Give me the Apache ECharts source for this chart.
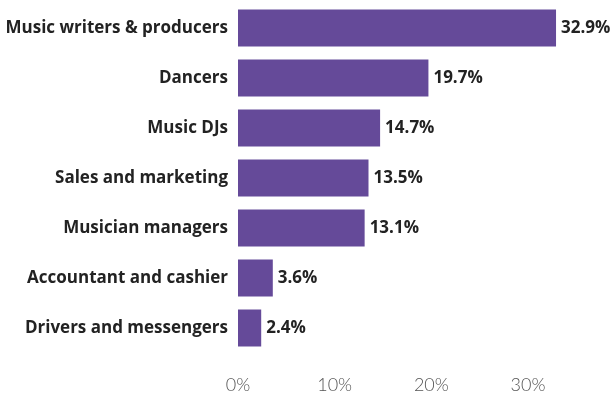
<!DOCTYPE html>
<html>
<head>
<meta charset="utf-8">
<script src="https://cdn.jsdelivr.net/npm/echarts@6/dist/echarts.min.js"></script>
<style>
  html, body { margin: 0; padding: 0; background: #fff; }
  #chart { width: 611px; height: 394px; }
</style>
</head>
<body>
<div id="chart"></div>
<script>
// Share of workers by occupation (percent)
const categories = [
  'Music writers & producers',
  'Dancers',
  'Music DJs',
  'Sales and marketing',
  'Musician managers',
  'Accountant and cashier',
  'Drivers and messengers'
];
const shares = [32.9, 19.7, 14.7, 13.5, 13.1, 3.6, 2.4];
const tickValues = [0, 10, 20, 30];

const chart = echarts.init(document.getElementById('chart'));
chart.setOption({
  animation: false,
  grid: { left: 238, right: 54, top: 3, bottom: 39, containLabel: false },
  xAxis: {
    type: 'value',
    min: 0,
    max: 33,
    interval: 10,
    axisLine: { show: false },
    axisTick: { show: false },
    splitLine: { show: false },
    axisLabel: {
      showMaxLabel: false,
      margin: 23,
      color: '#555',
      fontFamily: 'Lato',
      fontWeight: 300,
      fontSize: 18,
      formatter: v => tickValues.includes(v) ? v + '%' : ''
    }
  },
  yAxis: {
    type: 'category',
    data: categories,
    inverse: true,
    axisLine: { show: false },
    axisTick: { show: false },
    axisLabel: {
      margin: 10,
      color: '#222',
      fontFamily: 'Open Sans',
      fontWeight: 'bold',
      fontSize: 17
    }
  },
  series: [{
    type: 'bar',
    data: shares,
    barWidth: 37,
    itemStyle: { color: '#654a99' },
    label: {
      show: true,
      position: 'right',
      distance: 5,
      color: '#222',
      fontFamily: 'Open Sans',
      fontWeight: 'bold',
      fontSize: 17,
      formatter: p => p.value.toFixed(1) + '%'
    }
  }]
});
</script>
</body>
</html>
